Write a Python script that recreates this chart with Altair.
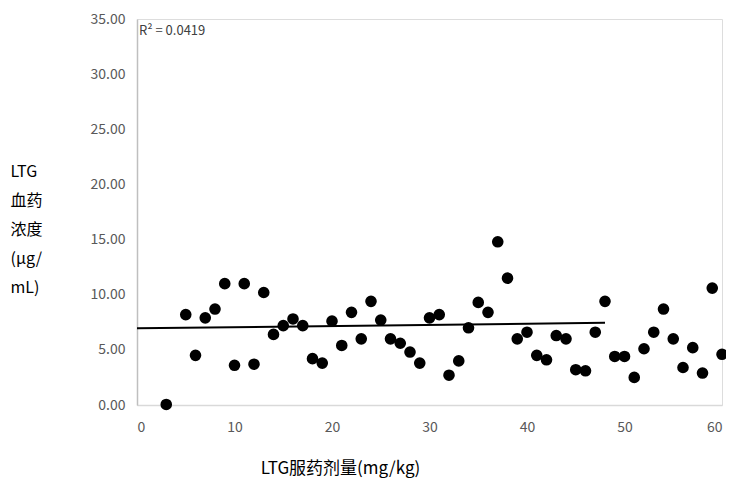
import altair as alt
import pandas as pd

dose = [3, 5, 6, 7, 8, 9, 10, 11, 12, 13, 14, 15, 16, 17, 18, 19, 20, 21, 22, 23,
        24, 25, 26, 27, 28, 29, 30, 31, 32, 33, 34, 35, 36, 37, 38, 39, 40, 41, 42, 43,
        44, 45, 46, 47, 48, 49, 50, 51, 52, 53, 54, 55, 56, 57, 58, 59, 60]
conc = [0.05, 8.2, 4.5, 7.9, 8.7, 11.0, 3.6, 11.0, 3.7, 10.2, 6.4, 7.2, 7.8, 7.2, 4.2, 3.8, 7.6, 5.4, 8.4, 6.0,
        9.4, 7.7, 6.0, 5.6, 4.8, 3.8, 7.9, 8.2, 2.7, 4.0, 7.0, 9.3, 8.4, 14.8, 11.5, 6.0, 6.6, 4.5, 4.1, 6.3,
        6.0, 3.2, 3.1, 6.6, 9.4, 4.4, 4.4, 2.5, 5.1, 6.6, 8.7, 6.0, 3.4, 5.2, 2.9, 10.6, 4.6]
trend_x = [0, 48]
trend_y = [6.95, 7.45]
r2_label = ["R\u00b2 = 0.0419"]

pts = pd.DataFrame({"x": dose, "y": conc})
trend = pd.DataFrame({"x": trend_x, "y": trend_y})
lab = pd.DataFrame({"t": r2_label, "x": [0.2], "y": [33.9]})

FONT = "Noto Sans CJK SC"

xs = alt.Scale(domain=[0, 60], nice=False)
ys = alt.Scale(domain=[0, 35], nice=False)

xaxis = alt.Axis(values=[0, 10, 20, 30, 40, 50, 60], grid=False, ticks=False,
                 domainColor="#d9d9d9", domainWidth=1.5, labelColor="#595959",
                 labelFontSize=14, labelPadding=15, labelFont=FONT,
                 title="LTG服药剂量(mg/kg)", titleFont=FONT, titleFontSize=17,
                 titleFontWeight="normal", titleColor="#000000",
                 titleX=203, titleY=63, titleAlign="center", titleBaseline="middle")
yaxis = alt.Axis(values=[0, 5, 10, 15, 20, 25, 30, 35], format=".2f", grid=False, ticks=False,
                 domainColor="#bfbfbf", domainWidth=1.5, labelColor="#595959",
                 labelFontSize=14, labelPadding=12, labelFont=FONT,
                 title=["LTG", "血药", "浓度", "(μg/", "mL)"], titleFont=FONT, titleFontSize=16,
                 titleFontWeight="normal", titleColor="#000000", titleAngle=0,
                 titleX=-127, titleY=144, titleAlign="left", titleBaseline="top",
                 titleLineHeight=29)

points = alt.Chart(pts).mark_circle(size=135, color="#000000", opacity=1).encode(
    x=alt.X("x:Q", scale=xs, axis=xaxis),
    y=alt.Y("y:Q", scale=ys, axis=yaxis),
)
line = alt.Chart(trend).mark_line(color="#000000", strokeWidth=2).encode(
    x=alt.X("x:Q", scale=xs), y=alt.Y("y:Q", scale=ys)
)
text = alt.Chart(lab).mark_text(align="left", baseline="middle", fontSize=13,
                                color="#404040", font=FONT).encode(
    x=alt.X("x:Q", scale=xs), y=alt.Y("y:Q", scale=ys), text="t:N"
)

chart = alt.layer(line, points, text).properties(
    width=585, height=386,
    autosize=alt.AutoSizeParams(type="none"),
    padding={"left": 129, "top": 11, "right": 4, "bottom": 77},
).configure_view(stroke=None).configure(background="#ffffff")

chart.save("out.html", embed_options={"renderer": "svg", "actions": False})
